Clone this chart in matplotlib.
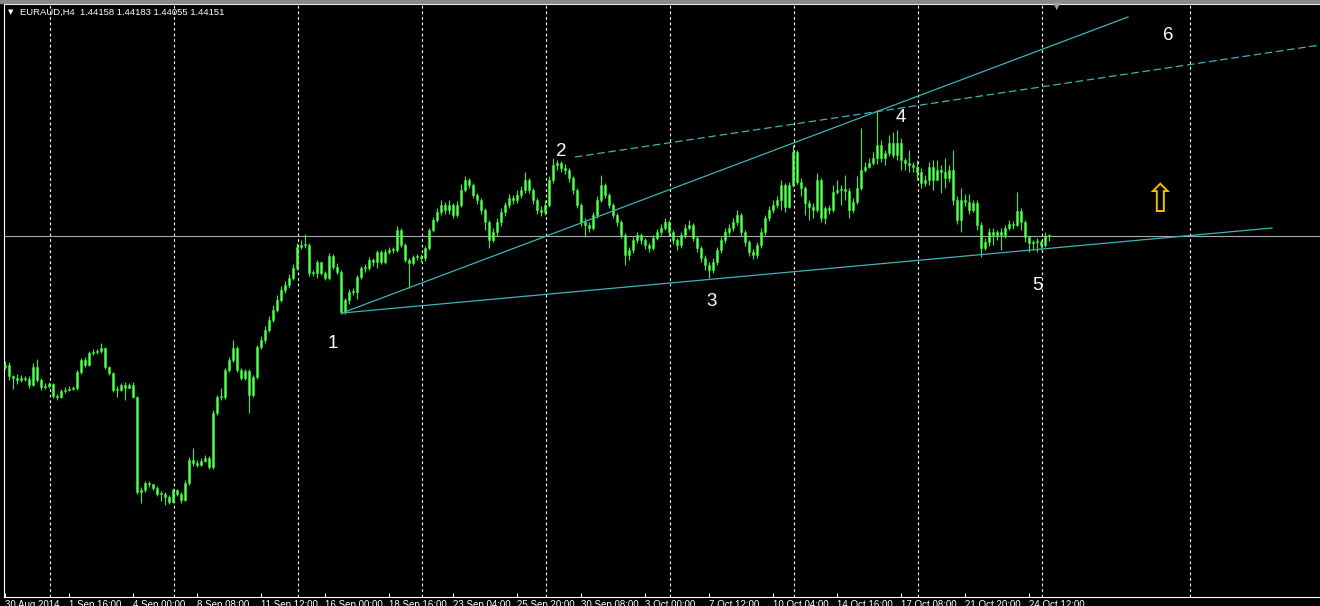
import numpy as np
import matplotlib.pyplot as plt
from matplotlib.patches import Rectangle

# EURAUD H4 candles
open0 = 1.4153
close = [1.4157, 1.4135, 1.4131, 1.4127, 1.4131, 1.4129, 1.4117, 1.4153, 1.4127, 1.4113,
         1.4115, 1.4119, 1.4095, 1.4093, 1.4105, 1.4107, 1.4109, 1.4111, 1.4143, 1.4167,
         1.4157, 1.4181, 1.4183, 1.4185, 1.4191, 1.4153, 1.4141, 1.4107, 1.4107, 1.4117,
         1.4111, 1.4117, 1.4093, 1.3903, 1.3907, 1.3921, 1.3919, 1.3911, 1.3899, 1.3899,
         1.3893, 1.3883, 1.3907, 1.3899, 1.3887, 1.3921, 1.3967, 1.3961, 1.3957, 1.3965,
         1.3971, 1.3953, 1.4061, 1.4093, 1.4093, 1.4147, 1.4167, 1.4191, 1.4147, 1.4131,
         1.4145, 1.4097, 1.4133, 1.4193, 1.4207, 1.4227, 1.4247, 1.4267, 1.4287, 1.4307,
         1.4317, 1.4331, 1.4351, 1.4393, 1.4397, 1.4397, 1.4341, 1.4341, 1.4363, 1.4341,
         1.4331, 1.4375, 1.4353, 1.4343, 1.4263, 1.4287, 1.4303, 1.4303, 1.4333, 1.4351,
         1.4351, 1.4367, 1.4363, 1.4383, 1.4363, 1.4383, 1.4387, 1.4387, 1.4427, 1.4397,
         1.4367, 1.4361, 1.4373, 1.4373, 1.4371, 1.4391, 1.4427, 1.4447, 1.4463, 1.4477,
         1.4467, 1.4477, 1.4457, 1.4477, 1.4507, 1.4527, 1.4517, 1.4497, 1.4487, 1.4467,
         1.4443, 1.4407, 1.4423, 1.4443, 1.4463, 1.4477, 1.4491, 1.4487, 1.4497, 1.4507,
         1.4527, 1.4507, 1.4487, 1.4467, 1.4463, 1.4477, 1.4527, 1.4557, 1.4561, 1.4551,
         1.4547, 1.4531, 1.4507, 1.4477, 1.4443, 1.4437, 1.4431, 1.4457, 1.4487, 1.4517,
         1.4497, 1.4477, 1.4457, 1.4443, 1.4417, 1.4377, 1.4387, 1.4407, 1.4417, 1.4407,
         1.4397, 1.4391, 1.4411, 1.4423, 1.4431, 1.4443, 1.4423, 1.4407, 1.4397, 1.4417,
         1.4431, 1.4437, 1.4411, 1.4391, 1.4371, 1.4357, 1.4347, 1.4363, 1.4387, 1.4407,
         1.4423, 1.4431, 1.4443, 1.4457, 1.4423, 1.4403, 1.4383, 1.4377, 1.4397, 1.4423,
         1.4451, 1.4467, 1.4477, 1.4487, 1.4517, 1.4473, 1.4517, 1.4583, 1.4523, 1.4511,
         1.4481, 1.4473, 1.4467, 1.4527, 1.4451, 1.4471, 1.4467, 1.4503, 1.4507, 1.4509,
         1.4505, 1.4467, 1.4483, 1.4511, 1.4547, 1.4553, 1.4561, 1.4571, 1.4597, 1.4571,
         1.4581, 1.4601, 1.4577, 1.4601, 1.4567, 1.4561, 1.4557, 1.4553, 1.4543, 1.4521,
         1.4527, 1.4553, 1.4527, 1.4547, 1.4543, 1.4531, 1.4547, 1.4487, 1.4447, 1.4487,
         1.4483, 1.4467, 1.4481, 1.4437, 1.4391, 1.4403, 1.4423, 1.4417, 1.4423, 1.4417,
         1.4431, 1.4439, 1.4437, 1.4465, 1.4443, 1.4413, 1.4401, 1.4403, 1.4403, 1.4397,
         1.4415, 1.44151]
high = [1.4165, 1.4163, 1.4137, 1.4139, 1.4137, 1.4135, 1.4135, 1.4161, 1.4169, 1.4131,
        1.4121, 1.4123, 1.4121, 1.4099, 1.4109, 1.4113, 1.4115, 1.4115, 1.4147, 1.4171,
        1.4173, 1.4185, 1.4189, 1.4189, 1.4201, 1.4193, 1.4155, 1.4143, 1.4115, 1.4121,
        1.4123, 1.4121, 1.4123, 1.4095, 1.3913, 1.3925, 1.3925, 1.3919, 1.3915, 1.3905,
        1.3903, 1.3897, 1.3911, 1.3909, 1.3903, 1.3927, 1.3973, 1.3991, 1.3967, 1.3971,
        1.3977, 1.3975, 1.4067, 1.4097, 1.4111, 1.4151, 1.4173, 1.4207, 1.4195, 1.4151,
        1.4149, 1.4149, 1.4137, 1.4197, 1.4215, 1.4235, 1.4255, 1.4277, 1.4297, 1.4315,
        1.4325, 1.4339, 1.4359, 1.4401, 1.4407, 1.4419, 1.4401, 1.4347, 1.4367, 1.4363,
        1.4345, 1.4381, 1.4379, 1.4361, 1.4347, 1.4291, 1.4309, 1.4311, 1.4337, 1.4355,
        1.4359, 1.4373, 1.4371, 1.4387, 1.4387, 1.4389, 1.4393, 1.4393, 1.4435, 1.4431,
        1.4401, 1.4371, 1.4377, 1.4379, 1.4379, 1.4395, 1.4431, 1.4453, 1.4471, 1.4487,
        1.4483, 1.4487, 1.4481, 1.4485, 1.4519, 1.4535, 1.4531, 1.4521, 1.4501, 1.4491,
        1.4471, 1.4447, 1.4431, 1.4451, 1.4471, 1.4483, 1.4499, 1.4497, 1.4507, 1.4515,
        1.4543, 1.4531, 1.4511, 1.4491, 1.4475, 1.4487, 1.4535, 1.4571, 1.4567, 1.4565,
        1.4559, 1.4551, 1.4535, 1.4511, 1.4481, 1.4451, 1.4443, 1.4463, 1.4495, 1.4537,
        1.4521, 1.4501, 1.4481, 1.4461, 1.4447, 1.4421, 1.4393, 1.4413, 1.4423, 1.4421,
        1.4411, 1.4401, 1.4417, 1.4429, 1.4439, 1.4451, 1.4447, 1.4427, 1.4411, 1.4423,
        1.4439, 1.4447, 1.4441, 1.4415, 1.4395, 1.4377, 1.4363, 1.4371, 1.4393, 1.4413,
        1.4431, 1.4439, 1.4451, 1.4467, 1.4461, 1.4427, 1.4407, 1.4389, 1.4403, 1.4431,
        1.4457, 1.4475, 1.4487, 1.4495, 1.4527, 1.4521, 1.4523, 1.4597, 1.4587, 1.4531,
        1.4515, 1.4487, 1.4481, 1.4541, 1.4531, 1.4475, 1.4477, 1.4517, 1.4527, 1.4517,
        1.4537, 1.4511, 1.4491, 1.4535, 1.4631, 1.4563, 1.4571, 1.4583, 1.4667, 1.4607,
        1.4587, 1.4617, 1.4623, 1.4627, 1.4611, 1.4571, 1.4587, 1.4563, 1.4567, 1.4551,
        1.4537, 1.4563, 1.4567, 1.4567, 1.4557, 1.4571, 1.4557, 1.4587, 1.4495, 1.4511,
        1.4499, 1.4499, 1.4487, 1.4487, 1.4443, 1.4411, 1.4431, 1.4431, 1.4427, 1.4431,
        1.4437, 1.4447, 1.4445, 1.4503, 1.4471, 1.4447, 1.4415, 1.4407, 1.4411, 1.4407,
        1.4423, 1.44183]
low = [1.4149, 1.4127, 1.4109, 1.4119, 1.4123, 1.4125, 1.4111, 1.4115, 1.4123, 1.4107,
       1.4109, 1.4111, 1.4091, 1.4087, 1.4091, 1.4101, 1.4105, 1.4107, 1.4107, 1.4139,
       1.4153, 1.4155, 1.4177, 1.4179, 1.4181, 1.4149, 1.4137, 1.4103, 1.4093, 1.4105,
       1.4087, 1.4111, 1.4091, 1.3899, 1.3881, 1.3903, 1.3913, 1.3907, 1.3895, 1.3885,
       1.3877, 1.3879, 1.3881, 1.3895, 1.3881, 1.3885, 1.3917, 1.3955, 1.3953, 1.3955,
       1.3963, 1.3949, 1.3949, 1.4057, 1.4087, 1.4089, 1.4143, 1.4163, 1.4143, 1.4127,
       1.4127, 1.4061, 1.4093, 1.4129, 1.4189, 1.4201, 1.4223, 1.4243, 1.4263, 1.4283,
       1.4301, 1.4311, 1.4327, 1.4347, 1.4389, 1.4391, 1.4335, 1.4335, 1.4331, 1.4337,
       1.4327, 1.4327, 1.4349, 1.4339, 1.4259, 1.4259, 1.4279, 1.4297, 1.4289, 1.4329,
       1.4343, 1.4347, 1.4355, 1.4351, 1.4359, 1.4359, 1.4379, 1.4381, 1.4383, 1.4393,
       1.4363, 1.4311, 1.4357, 1.4367, 1.4363, 1.4365, 1.4387, 1.4423, 1.4443, 1.4457,
       1.4459, 1.4459, 1.4451, 1.4453, 1.4473, 1.4503, 1.4511, 1.4491, 1.4479, 1.4459,
       1.4427, 1.4391, 1.4403, 1.4415, 1.4435, 1.4455, 1.4471, 1.4479, 1.4481, 1.4491,
       1.4501, 1.4501, 1.4479, 1.4459, 1.4455, 1.4457, 1.4473, 1.4521, 1.4547, 1.4543,
       1.4539, 1.4523, 1.4499, 1.4471, 1.4435, 1.4413, 1.4423, 1.4427, 1.4451, 1.4483,
       1.4491, 1.4471, 1.4451, 1.4435, 1.4411, 1.4357, 1.4367, 1.4381, 1.4401, 1.4399,
       1.4389, 1.4383, 1.4387, 1.4407, 1.4417, 1.4427, 1.4415, 1.4399, 1.4387, 1.4391,
       1.4411, 1.4427, 1.4405, 1.4383, 1.4363, 1.4347, 1.4331, 1.4341, 1.4357, 1.4381,
       1.4401, 1.4417, 1.4425, 1.4437, 1.4415, 1.4395, 1.4375, 1.4369, 1.4371, 1.4391,
       1.4417, 1.4445, 1.4461, 1.4471, 1.4467, 1.4463, 1.4471, 1.4513, 1.4519, 1.4495,
       1.4457, 1.4447, 1.4451, 1.4463, 1.4443, 1.4439, 1.4459, 1.4463, 1.4499, 1.4477,
       1.4487, 1.4451, 1.4461, 1.4479, 1.4507, 1.4543, 1.4551, 1.4557, 1.4559, 1.4563,
       1.4557, 1.4575, 1.4571, 1.4567, 1.4547, 1.4547, 1.4543, 1.4543, 1.4527, 1.4511,
       1.4515, 1.4517, 1.4507, 1.4531, 1.4501, 1.4511, 1.4523, 1.4477, 1.4439, 1.4423,
       1.4475, 1.4459, 1.4463, 1.4427, 1.4373, 1.4387, 1.4395, 1.4397, 1.4407, 1.4387,
       1.4411, 1.4427, 1.4429, 1.4435, 1.4427, 1.4403, 1.4383, 1.4387, 1.4383, 1.4387,
       1.4393, 1.44055]

tick_labels = ["30 Aug 2014", "1 Sep 16:00", "4 Sep 00:00", "8 Sep 08:00", "11 Sep 12:00",
               "16 Sep 00:00", "18 Sep 16:00", "23 Sep 04:00", "25 Sep 20:00", "30 Sep 08:00",
               "3 Oct 00:00", "7 Oct 12:00", "10 Oct 04:00", "14 Oct 16:00", "17 Oct 08:00",
               "21 Oct 20:00", "24 Oct 12:00"]

# trend lines (bar index, price)
line_low = ([84.25, 316.75], [1.4261, 1.4431])
line_steep = ([84.25, 280.75], [1.4261, 1.4853])
line_dash = ([142.5, 328.75], [1.4573, 1.4797])

wave_labels = ["1", "2", "3", "4", "5", "6"]
wave_x = [82, 139, 176.75, 224, 258, 290.75]
wave_y = [1.4201, 1.4583, 1.4283, 1.4651, 1.4317, 1.4815]

close = np.array(close)
high = np.array(high)
low = np.array(low)
opn = np.concatenate([[open0], close[:-1]])
opn[-1] = 1.44158
high = np.maximum(high, np.maximum(opn, close))
low = np.minimum(low, np.minimum(opn, close))
x = np.arange(len(close))

fig = plt.figure(figsize=(13.2, 6.06), dpi=100, facecolor="black")
ax = fig.add_axes([4 / 1320, 9 / 606, 1 - 4 / 1320, 593 / 606])
ax.set_facecolor("black")

# week separators
for g in [11.25, 42.25, 73.25, 104.25, 135.25, 166.25, 197.25, 228.25, 259.25, 296.25]:
    ax.axvline(g, color="white", lw=0.8, dashes=(2.5, 2.5), zorder=1)

ax.axhline(close[-1], color="#a9a9a9", lw=0.8, zorder=2)

green = "#33f033"
ax.vlines(x, low, high, color=green, lw=0.8, zorder=3)
body = np.maximum(np.abs(close - opn), 0.00012)
ax.bar(x, body, bottom=np.minimum(opn, close), width=0.7, color="#5cff5c",
       edgecolor=green, linewidth=0.4, zorder=4)

teal = "#3fb3b8"
ax.plot(*line_low, color=teal, lw=0.9, zorder=5)
ax.plot(*line_steep, color=teal, lw=0.9, zorder=5)
ax.plot(*line_dash, color=teal, lw=0.9, dashes=(6, 3), zorder=5)

for t, xx, yy in zip(wave_labels, wave_x, wave_y):
    ax.text(xx, yy, t, color="white", fontsize=13.5, ha="center", va="center",
            family="Liberation Sans", zorder=6)

ax.text(288.75, 1.4485, "\u21e7", color="#f2c400", fontsize=28, ha="center",
        va="center", family="DejaVu Sans", zorder=6)

ax.set_xlim(-0.25, 328.75)
ax.set_ylim(1.3693, 1.4879)

ax.set_xticks(np.arange(0, 257, 16))
ax.set_xticklabels(tick_labels, ha="left", color="white", fontsize=7,
                   family="Liberation Sans")
ax.tick_params(axis="x", direction="in", length=3, color="white", pad=2.5)
ax.set_yticks([])
for s in ["left", "bottom", "top"]:
    ax.spines[s].set_color("white")
    ax.spines[s].set_linewidth(0.8)
ax.spines["right"].set_visible(False)

fig.patches.append(Rectangle((0, 1 - 3 / 606), 1, 3 / 606, transform=fig.transFigure,
                             color="#8a8a8a", zorder=0))
fig.text(1057 / 1320, 1 - 6 / 606, "\u25bc", color="#a0a0a0", fontsize=7,
         ha="center", va="center")
fig.text(8 / 1320, 1 - 12 / 606, "\u25bc", color="white", fontsize=5,
         ha="left", va="center")
fig.text(20 / 1320, 1 - 12 / 606, "EURAUD,H4  1.44158 1.44183 1.44055 1.44151",
         color="white", fontsize=6.8, ha="left", va="center", family="Liberation Sans")

fig.savefig("out.png", dpi=100, facecolor="black")
